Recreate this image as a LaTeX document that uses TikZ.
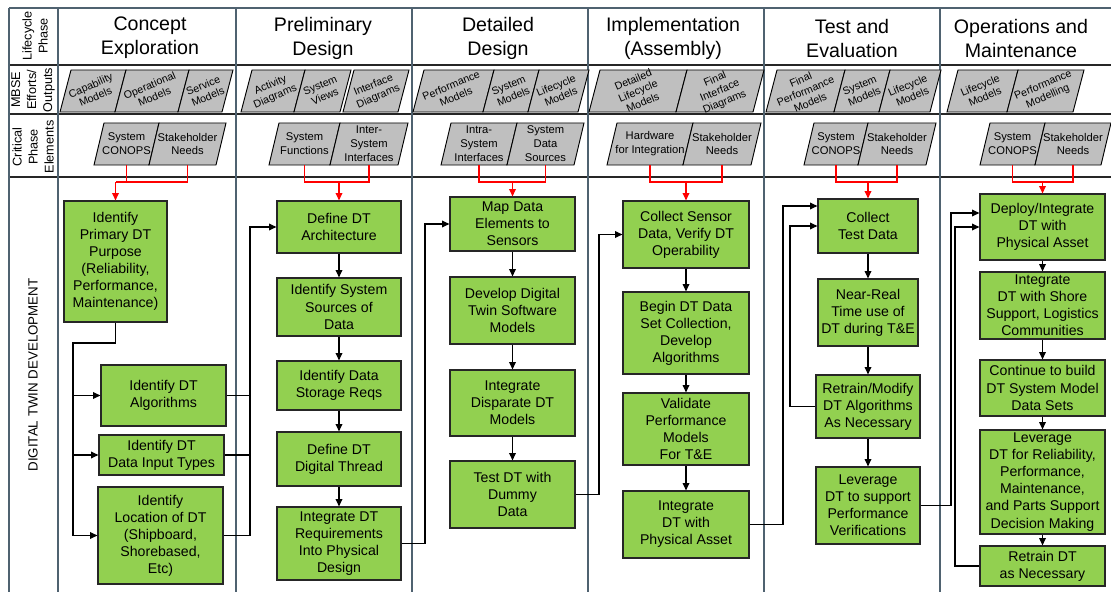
\documentclass[tikz,border=0pt]{standalone}
\usepackage{fontspec}
\setmainfont{Liberation Sans}
\usetikzlibrary{arrows.meta,calc}

\definecolor{boxgreen}{HTML}{92D050}
\definecolor{pgray}{HTML}{BFBFBF}
\definecolor{slate}{HTML}{4F6270}
\definecolor{linkred}{HTML}{FF0000}

\tikzset{
  sep/.style={draw=slate, line width=2.2pt},
  rowline/.style={draw=black!85, line width=0.8pt},
  pgram/.style={fill=pgray, draw=black, line width=0.7pt},
  mtext/.style={font=\fontsize{8}{9.2}\selectfont, align=center, rotate=23, inner sep=0pt},
  ctext/.style={font=\fontsize{8.4}{10.4}\selectfont, align=center, inner sep=0pt},
  gbox/.style={fill=boxgreen, draw=black!85, line width=0.9pt, align=center,
               inner sep=0pt, font=\fontsize{10.6}{12.8}\selectfont},
  flow/.style={draw=black, line width=0.9pt},
  flowarrow/.style={flow, -{Triangle[length=5.5pt,width=5pt]}},
  redlink/.style={draw=linkred, line width=1pt},
  redarrow/.style={redlink, -{Triangle[length=5.5pt,width=5pt]}},
  title/.style={font=\fontsize{14.7}{18}\selectfont, align=center},
  sidelabel/.style={font=\fontsize{9.5}{12}\selectfont, align=center, rotate=90},
}

% MBSE output segment: name, bottom-left x, bottom-right x, text
\newcommand{\mseg}[4]{%
  \filldraw[pgram] (#2,112) -- (#2+11,70) -- (#3+11,70) -- (#3,112) -- cycle;
  \node[mtext] (#1) at ({(#2+#3)/2+5.5},91) {#4};}
% critical element segment: name, bottom-left x, bottom-right x, text
\newcommand{\cseg}[4]{%
  \filldraw[pgram] (#2,165) -- (#2+10,123) -- (#3+10,123) -- (#3,165) -- cycle;
  \node[ctext] (#1) at ({(#2+#3)/2+5},144) {#4};}
% green process box: name, x1, y1, x2, y2, text
\newcommand{\gbox}[6]{%
  \node[gbox, minimum width={(#4-#2)*0.75pt}, minimum height={(#5-#3)*0.75pt}]
    (#1) at ({(#2+#4)/2},{(#3+#5)/2}) {#6};}
% red bracket joining two critical elements into the first box of a phase
\newcommand{\redjoin}[3]{%
  \coordinate (#3j) at (#3 |- 0,182);
  \draw[redlink] (#1 |- 0,165) -- (#1 |- #3j) -- (#2 |- #3j) -- (#2 |- 0,165);
  \draw[redlink] (#1 |- #3j) -- (#3j);
  \draw[redarrow] (#3j) -- (#3.north);}

\begin{document}
\begin{tikzpicture}[x=0.75pt,y=-0.75pt]
\useasboundingbox (0,0) rectangle (1111,592);
\fill[white] (0,0) rectangle (1111,592);

% ---- grid ----
\draw[rowline] (9,65) -- (1111,65);
\draw[rowline] (9,114) -- (1111,114);
\draw[rowline] (9,177) -- (1111,177);
\draw[sep] (9,8) -- (1111,8);
\foreach \x in {9,58,236,412,588,764,940}
  \draw[sep] (\x,8) -- (\x,593);

% ---- row labels ----
\node[sidelabel] (lbl1) at (35,36) {Lifecycle\\Phase};
\node[sidelabel] (lbl2) at (33,90) {MBSE\\Efforts/\\Outputs};
\node[sidelabel] (lbl3) at (33,147) {Critical\\Phase\\Elements};
\node[sidelabel, font=\fontsize{10}{12}\selectfont] (lbl4) at (33,375) {DIGITAL TWIN DEVELOPMENT};

% ---- phase titles ----
\node[title] (h1) at (150,38) {Concept\\Exploration};
\node[title] (h2) at (323,38) {Preliminary\\Design};
\node[title] (h3) at (498,38) {Detailed\\Design};
\node[title] (h4) at (673,38) {Implementation\\(Assembly)};
\node[title] (h5) at (852,38) {Test and\\Evaluation};
\node[title] (h6) at (1021,38) {Operations and\\Maintenance};

% ---- MBSE efforts / outputs ----
\mseg{mc1}{60}{115}{Capability\\Models}
\mseg{mc2}{115}{178}{Operational\\Models}
\mseg{mc3}{178}{222}{Service\\Models}
\mseg{mp1}{241}{294}{Activity\\Diagrams}
\mseg{mp2}{294}{340}{System\\Views}
\mseg{mp3}{343}{398}{Interface\\Diagrams}
\mseg{md1}{413}{483}{Performance\\Models}
\mseg{md2}{483}{528}{System\\Models}
\mseg{md3}{528}{578}{Lifecycle\\Models}
\mseg{mi1}{589}{676}{Detailed\\Lifecycle\\Models}
\mseg{mi2}{676}{753}{Final\\Interface\\Diagrams}
\mseg{mt1}{766}{834}{Final\\Performance\\Models}
\mseg{mt2}{834}{879}{System\\Models}
\mseg{mt3}{879}{930}{Lifecycle\\Models}
\mseg{mo1}{947}{1007}{Lifecycle\\Models}
\mseg{mo2}{1007}{1073}{Performance\\Modelling}

% ---- critical phase elements ----
\cseg{cc1}{94}{149}{System\\CONOPS}
\cseg{cc2}{149}{216}{Stakeholder\\Needs}
\cseg{cp1}{269}{330}{System\\Functions}
\cseg{cp2}{330}{398}{Inter-\\System\\Interfaces}
\cseg{cd1}{441}{507}{Intra-\\System\\Interfaces}
\cseg{cd2}{507}{574}{System\\Data\\Sources}
\cseg{ci1}{607}{683}{Hardware\\for Integration}
\cseg{ci2}{683}{751}{Stakeholder\\Needs}
\cseg{ct1}{804}{858}{System\\CONOPS}
\cseg{ct2}{858}{926}{Stakeholder\\Needs}
\cseg{co1}{980}{1035}{System\\CONOPS}
\cseg{co2}{1035}{1101}{Stakeholder\\Needs}

% ---- process boxes ----
\gbox{B1}{64}{201}{167}{322}{Identify\\Primary DT\\Purpose\\(Reliability,\\Performance,\\Maintenance)}
\gbox{B2}{101}{365}{226}{426}{Identify DT\\Algorithms}
\gbox{B3}{99}{435}{224}{475}{Identify DT\\Data Input Types}
\gbox{B4}{98}{487}{223}{584}{Identify\\Location of DT\\(Shipboard,\\Shorebased,\\Etc)}

\gbox{P1}{277}{201}{401}{253}{Define DT\\Architecture}
\gbox{P2}{277}{278}{401}{336}{Identify System\\Sources of\\Data}
\gbox{P3}{277}{361}{401}{410}{Identify Data\\Storage Reqs}
\gbox{P4}{277}{432}{401}{486}{Define DT\\Digital Thread}
\gbox{P5}{277}{507}{401}{580}{Integrate DT\\Requirements\\Into Physical\\Design}

\gbox{D1}{450}{197}{575}{251}{Map Data\\Elements to\\Sensors}
\gbox{D2}{450}{277}{575}{344}{Develop Digital\\Twin Software\\Models}
\gbox{D3}{450}{370}{575}{436}{Integrate\\Disparate DT\\Models}
\gbox{D4}{450}{461}{575}{528}{Test DT with\\Dummy\\Data}

\gbox{I1}{623}{201}{749}{268}{Collect Sensor\\Data, Verify DT\\Operability}
\gbox{I2}{623}{292}{749}{374}{Begin DT Data\\Set Collection,\\Develop\\Algorithms}
\gbox{I3}{623}{393}{749}{465}{Validate\\Performance\\Models\\For T\&E}
\gbox{I4}{623}{491}{749}{558}{Integrate\\DT with\\Physical Asset}

\gbox{T1}{818}{199}{918}{253}{Collect\\Test Data}
\gbox{T2}{818}{279}{918}{346}{Near-Real\\Time use of\\DT during T\&E}
\gbox{T3}{816}{375}{920}{438}{Retrain/Modify\\DT Algorithms\\As Necessary}
\gbox{T4}{816}{467}{920}{544}{Leverage\\DT to support\\Performance\\Verifications}

\gbox{O1}{980}{194}{1105}{260}{Deploy/Integrate\\DT with\\Physical Asset}
\gbox{O2}{980}{272}{1105}{339}{Integrate\\DT with Shore\\Support, Logistics\\Communities}
\gbox{O3}{980}{360}{1105}{416}{Continue to build\\DT System Model\\Data Sets}
\gbox{O4}{980}{430}{1105}{534}{Leverage\\DT for Reliability,\\Performance,\\Maintenance,\\and Parts Support\\Decision Making}
\gbox{O5}{980}{546}{1105}{586}{Retrain DT\\as Necessary}

% ---- critical elements feeding each phase ----
\redjoin{cc1}{cc2}{B1}
\redjoin{cp1}{cp2}{P1}
\redjoin{cd1}{cd2}{D1}
\redjoin{ci1}{ci2}{I1}
\redjoin{ct1}{ct2}{T1}
\redjoin{co1}{co2}{O1}

% ---- flow inside phases ----
\coordinate (busA) at (73,343);
\draw[flow] (B1.south) |- (busA) -- (busA |- B4.west);
\foreach \n in {B2,B3,B4}
  \draw[flowarrow] (busA |- \n.west) -- (\n.west);

\foreach \a/\b in {P1/P2,P2/P3,P3/P4,P4/P5,
                   D1/D2,D2/D3,D3/D4,
                   I1/I2,I2/I3,I3/I4,
                   T1/T2,T2/T3,T3/T4,
                   O1/O2,O2/O3,O3/O4,O4/O5}
  \draw[flowarrow] (\a.south) -- (\a.south |- \b.north);

% ---- hand-offs between phases ----
\coordinate (busB) at (250,0);
\foreach \n in {B2,B3,B4}
  \draw[flow] (\n.east) -- (busB |- \n.east);
\draw[flowarrow] (busB |- B4.east) |- (P1.west);

\coordinate (busP) at (425,0);
\draw[flowarrow] (P5.east) -- (busP |- P5.east) |- (D1.west);

\coordinate (busD) at (599,0);
\draw[flowarrow] (D4.east) -- (busD |- D4.east) |- (I1.west);

\coordinate (busI) at (783,0);
\draw[flowarrow] (I4.east) -- (busI |- I4.east) |- ($(T1.west)+(0,-20)$);

\coordinate (busT) at (790,0);
\draw[flowarrow] (T3.west) -- (busT |- T3.west) |- (T1.west);

\coordinate (busTO) at (951,0);
\draw[flowarrow] (T4.east) -- (busTO |- T4.east) |- ($(O1.west)+(0,-14)$);

\coordinate (busO) at (955,0);
\draw[flowarrow] (O5.west) -- (busO |- O5.west) |- (O1.west);

\end{tikzpicture}
\end{document}
